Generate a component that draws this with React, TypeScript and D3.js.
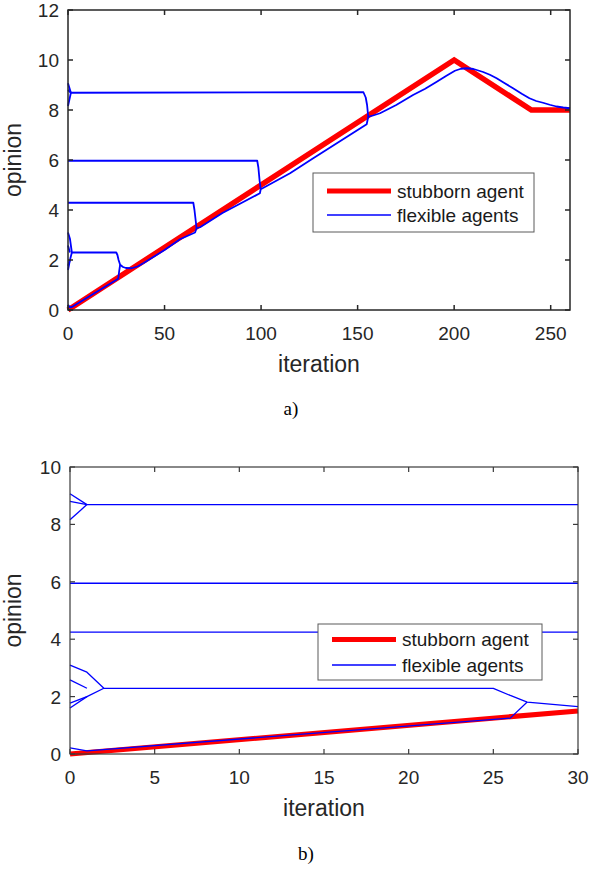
import * as d3 from "d3";

// panel a) : 0..260 iterations
const topStubborn: [number, number][] = [[0, 0], [200, 10], [240, 8], [260, 8]];
const topFlexible: [number, number][][] = [
  [[0, 9.07], [1.5, 8.69], [153, 8.71], [154.2, 8.5], [154.9, 8.2], [155.5, 7.73]],
  [[0, 8.8], [1.5, 8.69]],
  [[0, 8.16], [1.5, 8.69]],
  [[0, 5.97], [98, 5.97], [98.6, 5.7], [99.2, 5.2], [99.8, 4.83]],
  [[0, 4.29], [64.9, 4.29], [65.5, 4.0], [66.1, 3.6], [66.6, 3.27]],
  [[0, 3.1], [1, 2.85], [2, 2.3], [25, 2.3], [25.6, 2.2], [26.2, 2.0], [27, 1.81], [28.5, 1.72],
   [30, 1.68], [33, 1.67], [36, 1.74], [39, 1.87]],
  [[0, 2.58], [1, 2.3]],
  [[0, 1.77], [1, 2.0], [2, 2.3]],
  [[0, 1.6], [1, 2.0]],
  [[0, 0.21], [1, 0.11], [2, 0.12], [26, 1.25], [26.5, 1.55], [27, 1.81]],
  [[39, 1.87], [50, 2.4], [58, 2.83], [65.8, 3.1], [66.6, 3.27], [68.4, 3.31], [80, 3.88],
   [99.4, 4.67], [99.8, 4.83], [101.5, 4.9], [115, 5.47], [126.2, 6.03], [154.7, 7.43], [155.5, 7.73],
   [158, 7.78], [161.6, 7.87], [170, 8.2], [178.7, 8.6], [185, 8.85], [191, 9.13], [196, 9.37],
   [200.4, 9.57], [203.5, 9.65], [206.6, 9.67], [210, 9.64], [215, 9.52], [218.5, 9.41],
   [222, 9.27], [226, 9.08], [230.5, 8.87], [235, 8.65], [239, 8.47], [242.5, 8.36],
   [246, 8.29], [249.5, 8.21], [253, 8.14], [256.5, 8.1], [260, 8.07]],
];
const topXTicks = [0, 50, 100, 150, 200, 250];
const topYTicks = [0, 2, 4, 6, 8, 10, 12];

// panel b) : first 30 iterations
const botStubborn: [number, number][] = [[0, 0], [30, 1.5]];
const botFlexible: [number, number][][] = [
  [[0, 9.07], [1, 8.69], [30, 8.69]],
  [[0, 8.8], [1, 8.69]],
  [[0, 8.16], [1, 8.69]],
  [[0, 5.95], [30, 5.95]],
  [[0, 4.25], [30, 4.25]],
  [[0, 3.1], [1, 2.85], [2, 2.29], [25, 2.29], [26, 2.04], [27, 1.81], [30, 1.65]],
  [[0, 2.58], [1, 2.29]],
  [[0, 1.77], [1, 2.0], [2, 2.29]],
  [[0, 1.6], [1, 2.0]],
  [[0, 0.21], [1, 0.11], [26, 1.25], [27, 1.81]],
];
const botXTicks = [0, 5, 10, 15, 20, 25, 30];
const botYTicks = [0, 2, 4, 6, 8, 10];

const legendLabels = ["stubborn agent", "flexible agents"];

const SANS = "'Liberation Sans', Arial, sans-serif";
const AXIS = "#262626";

function Panel(props: any) {
  const { stubborn, flexible, xDomain, yDomain, xTicks, yTicks, box, legend, caption,
    redW, blueW, axisW, axisColor } = props;
  const x = d3.scaleLinear().domain(xDomain).range([box.left, box.right]);
  const y = d3.scaleLinear().domain(yDomain).range([box.bottom, box.top]);
  const line = d3.line<[number, number]>().x((d) => x(d[0])).y((d) => y(d[1]));
  const tl = 5;
  const cx = (box.left + box.right) / 2;
  const cy = (box.top + box.bottom) / 2;
  return (
    <g>
      <rect x={box.left} y={box.top} width={box.right - box.left} height={box.bottom - box.top}
        fill="white" />
      <path d={line(stubborn) || ""} fill="none" stroke="#ff0000" strokeWidth={redW} />
      {flexible.map((s: [number, number][], i: number) => (
        <path key={i} d={line(s) || ""} fill="none" stroke="#0000ff" strokeWidth={blueW}
          strokeLinejoin="round" />
      ))}
      <rect x={box.left} y={box.top} width={box.right - box.left} height={box.bottom - box.top}
        fill="none" stroke={axisColor} strokeWidth={axisW} />
      {xTicks.map((t: number) => (
        <g key={"x" + t}>
          <line x1={x(t)} x2={x(t)} y1={box.bottom} y2={box.bottom - tl} stroke={axisColor} strokeWidth={axisW} />
          <line x1={x(t)} x2={x(t)} y1={box.top} y2={box.top + tl} stroke={axisColor} strokeWidth={axisW} />
          <text x={x(t)} y={box.bottom + 30} textAnchor="middle" fontSize={19} fill={AXIS}
            fontFamily={SANS}>{t}</text>
        </g>
      ))}
      {yTicks.map((t: number) => (
        <g key={"y" + t}>
          <line x1={box.left} x2={box.left + tl} y1={y(t)} y2={y(t)} stroke={axisColor} strokeWidth={axisW} />
          <line x1={box.right} x2={box.right - tl} y1={y(t)} y2={y(t)} stroke={axisColor} strokeWidth={axisW} />
          <text x={box.left - 9} y={y(t) + 7} textAnchor="end" fontSize={19} fill={AXIS}
            fontFamily={SANS}>{t}</text>
        </g>
      ))}
      <text x={cx} y={box.bottom + 62} textAnchor="middle" fontSize={23} fill={AXIS}
        fontFamily={SANS}>iteration</text>
      <text transform={`translate(21,${cy}) rotate(-90)`} textAnchor="middle" fontSize={23}
        fill={AXIS} fontFamily={SANS}>opinion</text>
      <g>
        <rect x={legend.x} y={legend.y} width={legend.w} height={legend.h} fill="white"
          stroke="#5a5a5a" strokeWidth={1} />
        {legendLabels.map((lab, i) => {
          const ry = legend.y + legend.rows[i];
          return (
            <g key={lab}>
              <line x1={legend.x + 14} x2={legend.x + 78} y1={ry} y2={ry}
                stroke={i === 0 ? "#ff0000" : "#0000ff"} strokeWidth={i === 0 ? 5 : 1.4} />
              <text x={legend.x + 84} y={ry + 6.5} fontSize={19} fill="#1a1a1a"
                fontFamily={SANS}>{lab}</text>
            </g>
          );
        })}
      </g>
      <text x={caption.x} y={caption.y} textAnchor="middle" fontSize={19} fill="#000"
        fontFamily="'Liberation Serif', 'Times New Roman', serif">{caption.text}</text>
    </g>
  );
}

export default function App() {
  return (
    <svg width={591} height={872} style={{ position: "absolute", left: 0, top: 0, background: "white" }}>
      <rect width={591} height={872} fill="white" />
      <Panel
        stubborn={topStubborn}
        flexible={topFlexible}
        xDomain={[0, 260]}
        yDomain={[0, 12]}
        xTicks={topXTicks}
        yTicks={topYTicks}
        box={{ left: 68, right: 570, top: 10, bottom: 310 }}
        legend={{ x: 313, y: 173, w: 221, h: 59, rows: [18, 42] }}
        caption={{ x: 291, y: 415, text: "a)" }}
        redW={5.5}
        blueW={1.8}
        axisW={1.5}
        axisColor={AXIS}
      />
      <Panel
        stubborn={botStubborn}
        flexible={botFlexible}
        xDomain={[0, 30]}
        yDomain={[0, 10]}
        xTicks={botXTicks}
        yTicks={botYTicks}
        box={{ left: 70, right: 578, top: 467, bottom: 754 }}
        legend={{ x: 318, y: 624, w: 224, h: 56, rows: [15.5, 41] }}
        caption={{ x: 306, y: 860, text: "b)" }}
        redW={5}
        blueW={1.3}
        axisW={1.2}
        axisColor="#3a3a3a"
      />
    </svg>
  );
}
